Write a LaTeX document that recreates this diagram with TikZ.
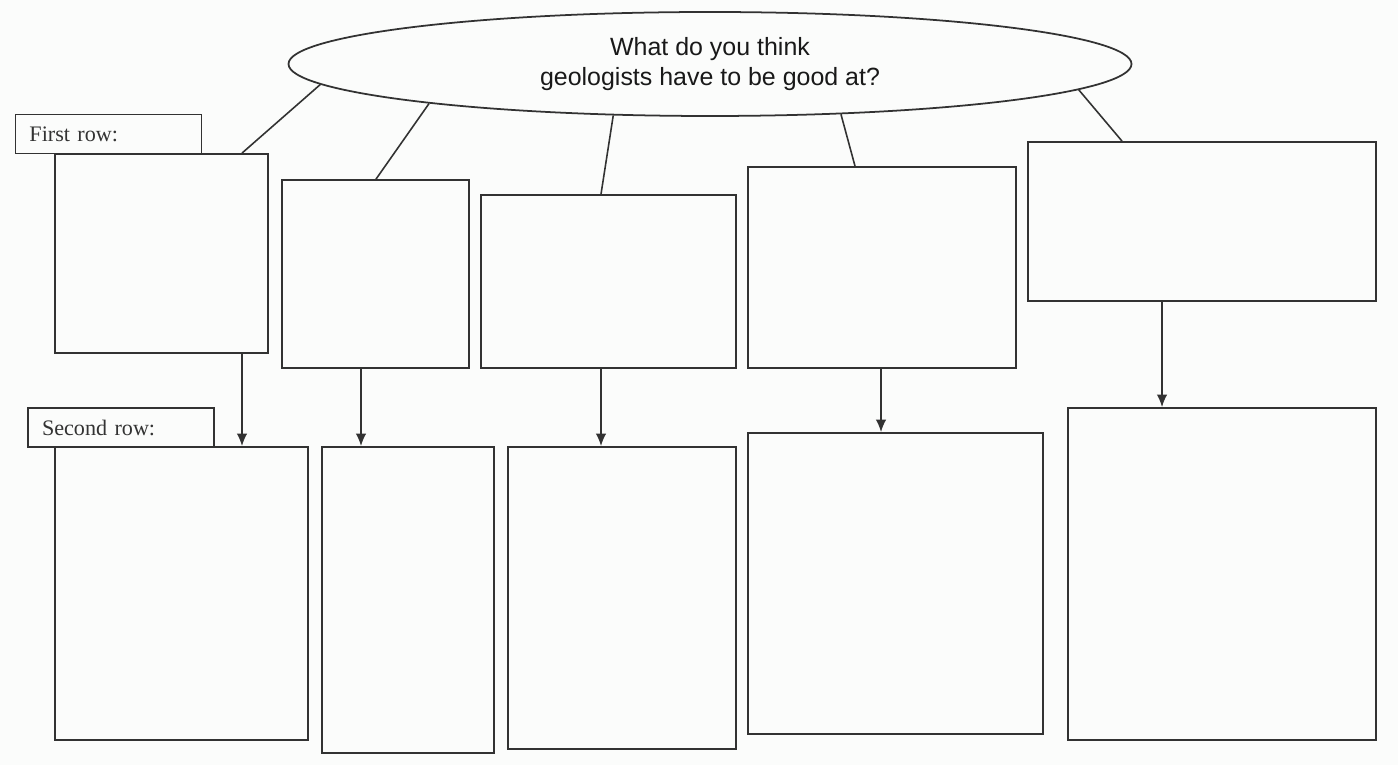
\documentclass[tikz,border=0pt]{standalone}
\usepackage{fontspec}
\setmainfont{Liberation Serif}
\newfontfamily\qfont{Liberation Sans}
\usetikzlibrary{shapes.geometric,arrows.meta}
\definecolor{paper}{RGB}{251,252,251}
\definecolor{ink}{RGB}{50,50,50}
\begin{document}
\begin{tikzpicture}[
  box/.style={draw=ink, line width=0.5pt, rectangle, inner sep=0pt},
  rowlabel/.style={box, minimum height=0.39cm, text width=1.58cm, inner xsep=0.14cm,
    align=left, font=\fontsize{6.3}{7}\selectfont, text=black!80},
  link/.style={draw=ink, line width=0.45pt},
  arr/.style={link, -{Latex[length=1.25mm,width=1.05mm]}}
  ]
  \fill[paper] (0,0) rectangle (13.98,7.65);
  \useasboundingbox (0,0) rectangle (13.98,7.65);

  \node[draw=ink, line width=0.5pt, ellipse, inner sep=0pt, minimum width=8.43cm, minimum height=1.04cm,
    align=center, font=\qfont\fontsize{7.1}{8.3}\selectfont, text=black!90] (Q) at (7.10,7.01)
    {What do you think\\geologists have to be good at?};

  % first row
  \node[box, minimum width=2.13cm, minimum height=1.99cm] (A1) at (1.615,5.115) {};
  \node[box, minimum width=1.87cm, minimum height=1.88cm] (A2) at (3.755,4.91) {};
  \node[box, minimum width=2.55cm, minimum height=1.73cm] (A3) at (6.085,4.835) {};
  \node[box, minimum width=2.68cm, minimum height=2.01cm] (A4) at (8.82,4.975) {};
  \node[box, minimum width=3.48cm, minimum height=1.59cm] (A5) at (12.02,5.435) {};

  % second row
  \node[box, minimum width=2.53cm, minimum height=2.93cm] (B1) at (1.815,1.715) {};
  \node[box, minimum width=1.72cm, minimum height=3.06cm] (B2) at (4.08,1.65) {};
  \node[box, minimum width=2.28cm, minimum height=3.02cm] (B3) at (6.22,1.67) {};
  \node[box, minimum width=2.95cm, minimum height=3.01cm] (B4) at (8.955,1.815) {};
  \node[box, minimum width=3.08cm, minimum height=3.32cm] (B5) at (12.22,1.91) {};

  \node[rowlabel, fill=paper] (first) at (1.085,6.31) {First row:};
  \node[rowlabel, fill=paper] (second) at (1.21,3.375) {Second row:};

  \draw[link] (Q.183) -- (2.42,0 |- A1.north);
  \draw[link] (Q.188) -- (3.76,0 |- A2.north);
  \draw[link] (Q.208) -- (6.01,0 |- A3.north);
  \draw[link] (Q.339.5) -- (8.55,0 |- A4.north);
  \draw[link] (Q.356.2) -- (11.22,0 |- A5.north);

  \draw[arr] (2.42,0 |- A1.south) -- (2.42,0 |- B1.north);
  \draw[arr] (3.61,0 |- A2.south) -- (3.61,0 |- B2.north);
  \draw[arr] (6.01,0 |- A3.south) -- (6.01,0 |- B3.north);
  \draw[arr] (8.81,0 |- A4.south) -- (8.81,0 |- B4.north);
  \draw[arr] (11.62,0 |- A5.south) -- (11.62,0 |- B5.north);
\end{tikzpicture}
\end{document}
